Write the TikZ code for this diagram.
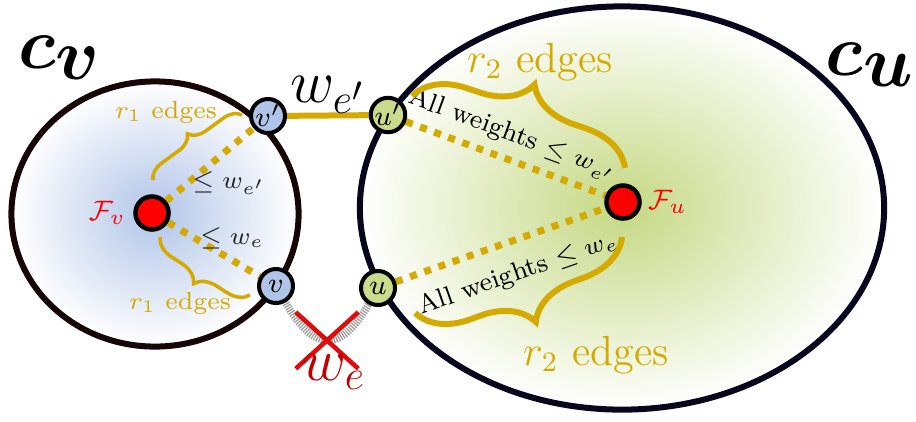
\documentclass[tikz,border=0pt]{standalone}
\usepackage{amsmath}
\usepackage{bm}
\usetikzlibrary{positioning, shapes.geometric, shapes.misc, decorations.pathreplacing}
\definecolor{edgegold}{RGB}{212,170,0}
\definecolor{vblue}{RGB}{176,196,232}
\definecolor{ugreen}{RGB}{202,220,140}
\definecolor{cvshade}{RGB}{176,196,232}
\definecolor{cushade}{RGB}{196,216,130}
\definecolor{cvline}{RGB}{22,6,6}
\definecolor{culine}{RGB}{6,6,28}
\definecolor{xred}{RGB}{222,12,12}
\definecolor{wered}{RGB}{190,0,0}
\pgfdeclarelayer{clusters}
\pgfdeclarelayer{edges}
\pgfsetlayers{clusters,edges,main}

\begin{document}
\begin{tikzpicture}[
  x=0.01cm, y=0.01cm,
  cluster/.style={ellipse, line width=0.06cm, inner sep=0pt},
  vtx/.style={circle, draw=black, line width=0.04cm, minimum size=0.34cm, inner sep=0pt, font=\footnotesize},
  vside/.style={vtx, fill=vblue},
  uside/.style={vtx, fill=ugreen},
  frag/.style={circle, draw=black, line width=0.045cm, fill=red, minimum size=0.33cm, inner sep=0pt},
  goldedge/.style={draw=edgegold, line width=0.06cm},
  pathedge/.style={draw=edgegold, line width=0.07cm, dash pattern=on 0.07cm off 0.08cm},
  cutedge/.style={draw=gray!75, line width=0.075cm, postaction={draw=white, line width=0.075cm, dash pattern=on 0.25pt off 0.45pt}},
  cutmark/.style={cross out, draw=xred, line width=0.045cm, minimum width=0.58cm, minimum height=0.52cm, inner sep=0pt},
  bracesmall/.style={decorate, decoration={brace, amplitude=#1}, draw=edgegold, line width=1pt},
  bracebig/.style={decorate, decoration={brace, amplitude=#1}, draw=edgegold, line width=1.7pt},
  rlabel/.style={text=edgegold},
  wlabel/.style={text=black!85, font=\scriptsize},
  alllabel/.style={font=\fontsize{7.5}{9}\selectfont}
]
  \useasboundingbox (0,0) rectangle (916,-421);

  % the two clusters
  \begin{pgfonlayer}{clusters}
    \node[cluster, draw=cvline, inner color=cvshade, outer color=white, minimum width=2.87cm, minimum height=2.65cm] (Cv) at (155,-214) {};
    \node[cluster, draw=culine, inner color=cushade, outer color=white, minimum width=5.24cm, minimum height=4.03cm] (Cu) at (622,-208) {};
  \end{pgfonlayer}
  \node[font=\huge] (cvlab) at (60,-58) {$\bm{c}_{\mbox{\huge$\bm{v}$}}$};
  \node[font=\huge] (culab) at (870,-65) {$\bm{c}_{\mbox{\huge$\bm{u}$}}$};

  % vertices
  \node[vside] (vp) at (268,-116) {$v'$};
  \node[vside] (v) at (276,-286) {$v$};
  \node[uside] (up) at (388,-115) {$u'$};
  \node[uside] (u) at (378,-288) {$u$};
  \node[frag] (Fv) at (152,-213) {};
  \node[frag] (Fu) at (623,-202) {};
  \node[left=-0.5mm of Fv, text=red, font=\footnotesize] (Fvlab) {$\mathcal{F}_v$};
  \node[right=-0.6mm of Fu, text=red, font=\footnotesize] (Fulab) {$\mathcal{F}_u$};

  % edges
  \begin{pgfonlayer}{edges}
    \draw[goldedge] (vp) -- node[above=-0.13cm, font=\LARGE] (wep) {$w_{e'}$} (up);
    \draw[cutedge] (v) to[out=-60, in=-120, looseness=1.75] node[cutmark] (cut) {} (u);
    \draw[pathedge] (Fv) -- (vp);
    \draw[pathedge] (Fv) -- (v);
    \draw[pathedge] (up) -- node[alllabel, sloped, above=-1pt, pos=0.49] (allup) {All weights $\leq w_{e'}$} (Fu);
    \draw[pathedge] (u) -- node[alllabel, sloped, below=1.5pt, pos=0.53] (allu) {All weights $\leq w_e$} (Fu);
  \end{pgfonlayer}
  \node[text=wered, font=\LARGE] (we) at (334,-372) {$w_e$};
  \node[wlabel] (lep) at (229,-183) {$\leq w_{e'}$};
  \node[wlabel] (le) at (232,-238) {$\leq w_e$};

  % braces
  \draw[bracesmall=0.17cm] (153,-180) -- (242,-115);
  \draw[bracesmall=0.21cm] (250,-295) -- (160,-237);
  \draw[bracebig=0.5cm] (412,-96) -- (625,-168);
  \draw[bracebig=0.5cm] (622,-237) -- (415,-313);
  \node[rlabel, font=\scriptsize] (r1top) at (166,-112) {$r_1$ edges};
  \node[rlabel, font=\scriptsize] (r1bot) at (180,-303) {$r_1$ edges};
  \node[rlabel, font=\large] (r2top) at (540,-62) {$r_2$ edges};
  \node[rlabel, font=\large] (r2bot) at (596,-355) {$r_2$ edges};
\end{tikzpicture}
\end{document}
